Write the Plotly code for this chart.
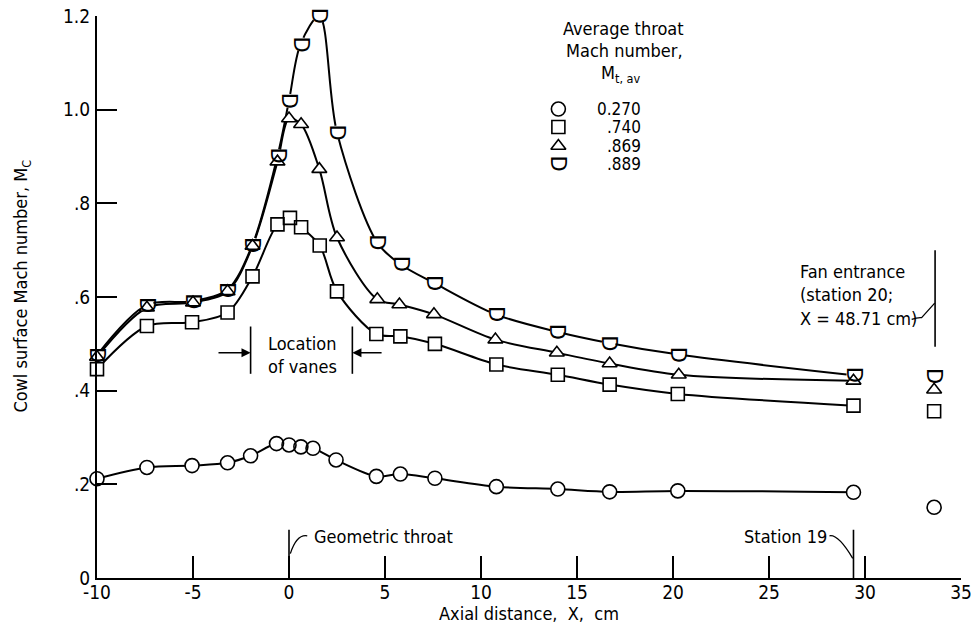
import plotly.graph_objects as go

# Cowl surface Mach number along the inlet, four average throat Mach numbers.
# The last point of each series is at the fan entrance (station 20) and is not
# joined to the faired curve, which ends at station 19.

throat_mach_labels = ["0.270", ".740", ".869", ".889"]

x_270 = [-10, -7.4, -5.05, -3.2, -2.0, -0.65, 0.0, 0.62, 1.25, 2.45, 4.55, 5.8,
         7.6, 10.8, 14.0, 16.7, 20.25, 29.4, 33.6]
m_270 = [0.212, 0.236, 0.240, 0.246, 0.261, 0.287, 0.284, 0.280, 0.277, 0.252,
         0.217, 0.222, 0.213, 0.195, 0.190, 0.184, 0.186, 0.183, 0.151]

x_740 = [-10, -7.4, -5.05, -3.2, -1.9, -0.6, 0.05, 0.63, 1.6, 2.5, 4.55, 5.8,
         7.6, 10.8, 14.0, 16.7, 20.25, 29.4, 33.6]
m_740 = [0.446, 0.538, 0.546, 0.567, 0.644, 0.755, 0.769, 0.749, 0.710, 0.612,
         0.521, 0.516, 0.500, 0.456, 0.434, 0.413, 0.393, 0.368, 0.356]

x_869 = [-10, -7.4, -5.0, -3.2, -1.9, -0.6, 0.0, 0.63, 1.58, 2.5, 4.6, 5.75,
         7.55, 10.75, 13.95, 16.7, 20.3, 29.4, 33.6]
m_869 = [0.472, 0.577, 0.588, 0.612, 0.709, 0.889, 0.981, 0.969, 0.873, 0.727,
         0.595, 0.584, 0.563, 0.509, 0.481, 0.458, 0.434, 0.421, 0.402]

x_889 = [-10, -7.4, -5.0, -3.2, -1.9, -0.6, 0.0, 0.6, 1.58, 2.5, 4.6, 5.8,
         7.55, 10.75, 13.95, 16.65, 20.3, 29.4, 33.6]
m_889 = [0.476, 0.583, 0.591, 0.616, 0.712, 0.901, 1.019, 1.140, 1.200, 0.951,
         0.716, 0.670, 0.630, 0.563, 0.526, 0.502, 0.477, 0.433, 0.431]

x_tick_vals = [-10, -5, 0, 5, 10, 15, 20, 25, 30, 35]
x_tick_text = ["-10", "-5", "0", "5", "10", "15", "20", "25", "30", "35"]
y_tick_vals = [0, 0.2, 0.4, 0.6, 0.8, 1.0, 1.2]
y_tick_text = ["0", ".2", ".4", ".6", ".8", "1.0", "1.2"]

# reference locations along the duct
vane_start_x, vane_end_x = -2.0, 3.3
geometric_throat_x = 0.0
station_19_x = 29.4
fan_entrance_x = 33.65

FONT = "DejaVu Sans Condensed, Liberation Sans Narrow, DejaVu Sans, sans-serif"
SYMBOL_FONT = "DejaVu Sans, sans-serif"
INK = "black"

series = [
    (x_270, m_270, "circle"),
    (x_740, m_740, "square"),
    (x_869, m_869, "triangle-up"),
    (x_889, m_889, None),  # flat-topped, round-bottomed symbol drawn as text
]
marker_size = {"circle": 14, "square": 13, "triangle-up": 13}
D_SIZE = 21

fig = go.Figure()

# faired curves, inlet lip to station 19
for xs, ys, _ in series:
    fig.add_trace(go.Scatter(
        x=xs[:-1], y=ys[:-1], mode="lines",
        line=dict(color=INK, width=2, shape="spline", smoothing=0.9),
        cliponaxis=False, hoverinfo="skip", showlegend=False))

# white interiors so curves stop at the symbol outlines
for xs, ys, sym in series:
    fig.add_trace(go.Scatter(
        x=xs, y=ys, mode="markers",
        marker=dict(symbol=sym or "circle", size=(marker_size.get(sym, 14)),
                    color="white", line=dict(width=0)),
        cliponaxis=False, hoverinfo="skip", showlegend=False))

# open symbol outlines
for xs, ys, sym in series:
    if sym is None:
        continue
    fig.add_trace(go.Scatter(
        x=xs, y=ys, mode="markers",
        marker=dict(symbol=sym + "-open", size=marker_size[sym],
                    color=INK, line=dict(width=1.6, color=INK)),
        cliponaxis=False, hoverinfo="skip", showlegend=False))

annotations = []

# the M_t,av = .889 symbol: a "D" turned a quarter turn
for xv, yv in zip(x_889, m_889):
    annotations.append(dict(
        x=xv, y=yv, xref="x", yref="y", text="D", textangle=90,
        showarrow=False, xanchor="center", yanchor="middle",
        font=dict(family=SYMBOL_FONT, size=D_SIZE, color=INK)))

# ---- key (drawn on an overlay axis spanning the plot area in 0..1 units)
key_x = 0.534
key_rows = [0.8345, 0.8025, 0.7687, 0.7367]
key_value_x = 0.632
for (_, _, sym), ky, lab in zip(series, key_rows, throat_mach_labels):
    if sym is None:
        fig.add_trace(go.Scatter(
            x=[key_x], y=[ky], xaxis="x2", yaxis="y2", mode="markers",
            marker=dict(symbol="circle", size=14, color="white", line=dict(width=0)),
            cliponaxis=False, hoverinfo="skip", showlegend=False))
        annotations.append(dict(
            x=key_x, y=ky, xref="paper", yref="paper", text="D", textangle=90,
            showarrow=False, xanchor="center", yanchor="middle",
            font=dict(family=SYMBOL_FONT, size=D_SIZE, color=INK)))
    else:
        fig.add_trace(go.Scatter(
            x=[key_x], y=[ky], xaxis="x2", yaxis="y2", mode="markers",
            marker=dict(symbol=sym + "-open", size=marker_size[sym],
                        color=INK, line=dict(width=1.6, color=INK)),
            cliponaxis=False, hoverinfo="skip", showlegend=False))
    annotations.append(dict(
        x=key_value_x, y=ky, xref="paper", yref="paper", text=lab,
        showarrow=False, xanchor="right", yanchor="middle",
        font=dict(family=FONT, size=17, color=INK)))

for txt, px, py in [("Average throat", 0.609, 0.9786),
                    ("Mach number,", 0.611, 0.9395),
                    ("M<sub>t, av</sub>", 0.606, 0.897)]:
    annotations.append(dict(
        x=px, y=py, xref="paper", yref="paper", text=txt, showarrow=False,
        xanchor="center", yanchor="middle",
        font=dict(family=FONT, size=18, color=INK)))

# axis titles
annotations.append(dict(
    x=0.5, y=-0.064, xref="paper", yref="paper", text="Axial distance,  X,  cm",
    showarrow=False, xanchor="center", yanchor="middle",
    font=dict(family=FONT, size=18, color=INK)))
annotations.append(dict(
    x=-0.087, y=0.52, xref="paper", yref="paper",
    text="Cowl surface Mach number, M<sub>C</sub>", textangle=-90,
    showarrow=False, xanchor="center", yanchor="middle",
    font=dict(family=FONT, size=18, color=INK)))

# labels for the duct stations
annotations.append(dict(
    x=0.2373, y=0.396, xref="paper", yref="paper", text="Location<br>of vanes",
    showarrow=False, xanchor="center", yanchor="middle", align="left",
    font=dict(family=FONT, size=18, color=INK)))
annotations.append(dict(
    x=0.8113, y=0.5036, xref="paper", yref="paper",
    text="Fan entrance<br>(station 20;<br>X = 48.71 cm)",
    showarrow=False, xanchor="left", yanchor="middle", align="left",
    font=dict(family=FONT, size=18, color=INK)))
annotations.append(dict(
    x=0.2488, y=0.073, xref="paper", yref="paper", text="Geometric throat",
    showarrow=False, xanchor="left", yanchor="middle",
    font=dict(family=FONT, size=18, color=INK)))
annotations.append(dict(
    x=0.8472, y=0.073, xref="paper", yref="paper", text="Station 19",
    showarrow=False, xanchor="right", yanchor="middle",
    font=dict(family=FONT, size=18, color=INK)))

# arrows pointing at the vane row limits
vane_arrow_y = 0.481
for head, tail in [(vane_start_x, -3.75), (vane_end_x, 4.9)]:
    annotations.append(dict(
        x=head, y=vane_arrow_y, ax=tail, ay=vane_arrow_y,
        xref="x", yref="y", axref="x", ayref="y", text="",
        showarrow=True, arrowhead=2, arrowsize=1.3, arrowwidth=1.4,
        arrowcolor=INK, standoff=0))

line_style = dict(color=INK, width=1.6)
shapes = [
    dict(type="line", xref="x", yref="y", x0=vane_start_x, x1=vane_start_x,
         y0=0.436, y1=0.537, line=line_style),
    dict(type="line", xref="x", yref="y", x0=vane_end_x, x1=vane_end_x,
         y0=0.436, y1=0.537, line=line_style),
    dict(type="line", xref="x", yref="y", x0=geometric_throat_x, x1=geometric_throat_x,
         y0=0, y1=0.103, line=line_style),
    dict(type="line", xref="x", yref="y", x0=station_19_x, x1=station_19_x,
         y0=0, y1=0.103, line=line_style),
    dict(type="line", xref="x", yref="y", x0=fan_entrance_x, x1=fan_entrance_x,
         y0=0.494, y1=0.70, line=line_style),
    # leader lines
    dict(type="path", xref="x", yref="y",
         path="M 0.07 0.052 Q 0.40 0.094 0.95 0.090", line=dict(color=INK, width=1.3)),
    dict(type="path", xref="x", yref="y",
         path="M 28.15 0.090 Q 28.60 0.094 29.36 0.042", line=dict(color=INK, width=1.3)),
    dict(type="path", xref="x", yref="y",
         path="M 32.43 0.552 Q 32.75 0.557 32.95 0.556 L 33.63 0.587",
         line=dict(color=INK, width=1.3)),
]

axis_common = dict(
    showline=True, linecolor=INK, linewidth=2, showgrid=False, zeroline=False,
    ticks="inside", tickcolor=INK, tickwidth=1.6, automargin=False,
    tickfont=dict(family=FONT, size=19, color=INK))

fig.update_layout(
    width=971, height=628,
    margin=dict(l=97, r=10, t=16, b=50, autoexpand=False),
    paper_bgcolor="white", plot_bgcolor="white",
    showlegend=False,
    xaxis=dict(range=[-10, 35], tickvals=x_tick_vals, ticktext=x_tick_text,
               ticklen=22, ticklabelstandoff=-4, ticklabeloverflow="allow",
               **axis_common),
    yaxis=dict(range=[0, 1.2], tickvals=y_tick_vals, ticktext=y_tick_text,
               ticklen=20, ticklabelstandoff=1, **axis_common),
    xaxis2=dict(range=[0, 1], overlaying="x", visible=False, fixedrange=True),
    yaxis2=dict(range=[0, 1], overlaying="y", visible=False, fixedrange=True),
    annotations=annotations,
    shapes=shapes,
)

fig.write_html("out.html")
